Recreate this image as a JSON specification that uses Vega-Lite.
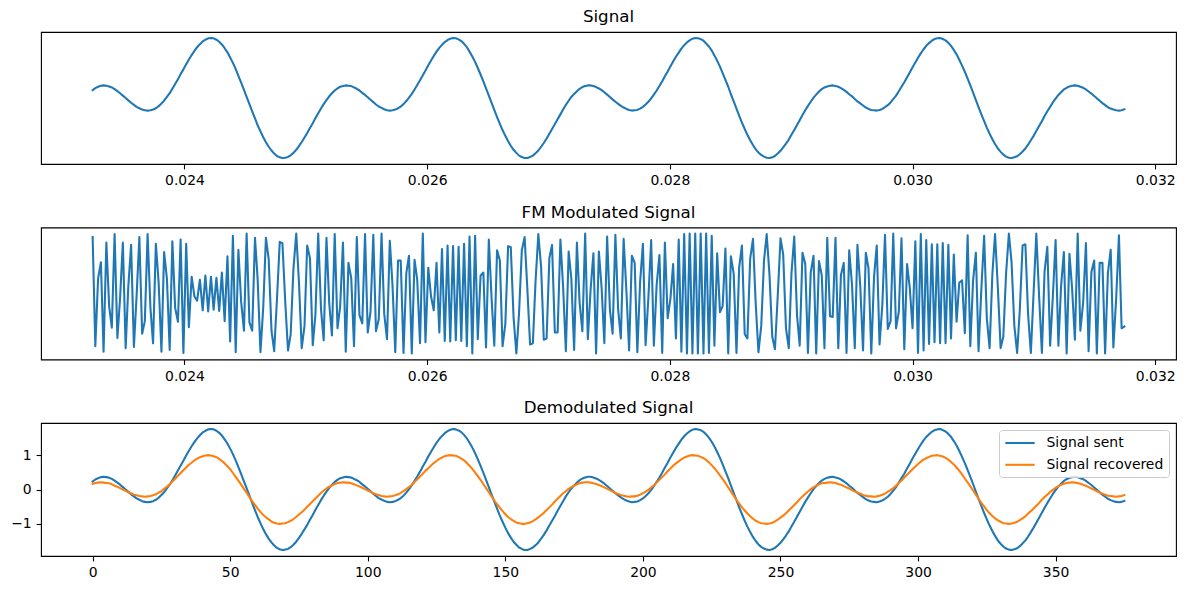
{
"$schema":"https://vega.github.io/schema/vega-lite/v6.json",
"padding":{"left":10,"top":8,"right":5,"bottom":5},
"spacing":14.5,
"resolve":{"legend":{"color":"independent"}},
"config":{
"font":"DejaVu Sans",
"view":{"stroke":"#000000","strokeWidth":1.1},
"axis":{"grid":false,"domain":false,"tickColor":"#000000","tickSize":4.9,"tickWidth":1.1,"labelFontSize":13.9,"labelColor":"#000000","labelPadding":4.9,"labelFont":"DejaVu Sans","labelFlush":false,"labelOverlap":false,"title":null},
"title":{"font":"DejaVu Sans","fontSize":16.7,"fontWeight":"normal","color":"#000000","offset":6,"anchor":"middle"},
"line":{"strokeWidth":2.08,"strokeJoin":"round","strokeCap":"square"}
},
"data":{"values":[
{"n":0,"t":0.023243,"s":0.23,"f":0.94,"r":0.16},
{"n":1,"t":0.023265,"s":0.29,"f":-0.88,"r":0.19},
{"n":2,"t":0.023288,"s":0.33,"f":0.25,"r":0.20},
{"n":3,"t":0.023311,"s":0.36,"f":0.52,"r":0.21},
{"n":4,"t":0.023333,"s":0.37,"f":-0.97,"r":0.20},
{"n":5,"t":0.023356,"s":0.36,"f":0.85,"r":0.19},
{"n":6,"t":0.023379,"s":0.34,"f":-0.21,"r":0.18},
{"n":7,"t":0.023401,"s":0.31,"f":-0.57,"r":0.15},
{"n":8,"t":0.023424,"s":0.26,"f":0.99,"r":0.11},
{"n":9,"t":0.023447,"s":0.20,"f":-0.74,"r":0.08},
{"n":10,"t":0.023469,"s":0.14,"f":-0.08,"r":0.04},
{"n":11,"t":0.023492,"s":0.07,"f":0.85,"r":0.00},
{"n":12,"t":0.023515,"s":0.00,"f":-0.91,"r":-0.04},
{"n":13,"t":0.023537,"s":-0.07,"f":0.12,"r":-0.08},
{"n":14,"t":0.023560,"s":-0.14,"f":0.81,"r":-0.11},
{"n":15,"t":0.023583,"s":-0.20,"f":-0.89,"r":-0.15},
{"n":16,"t":0.023605,"s":-0.26,"f":-0.05,"r":-0.17},
{"n":17,"t":0.023628,"s":-0.30,"f":0.94,"r":-0.19},
{"n":18,"t":0.023651,"s":-0.34,"f":-0.67,"r":-0.20},
{"n":19,"t":0.023673,"s":-0.36,"f":-0.46,"r":-0.21},
{"n":20,"t":0.023696,"s":-0.37,"f":0.99,"r":-0.20},
{"n":21,"t":0.023719,"s":-0.36,"f":-0.23,"r":-0.19},
{"n":22,"t":0.023741,"s":-0.34,"f":-0.83,"r":-0.17},
{"n":23,"t":0.023764,"s":-0.30,"f":0.83,"r":-0.14},
{"n":24,"t":0.023787,"s":-0.24,"f":0.18,"r":-0.09},
{"n":25,"t":0.023810,"s":-0.16,"f":-0.97,"r":-0.05},
{"n":26,"t":0.023832,"s":-0.08,"f":0.69,"r":0.02},
{"n":27,"t":0.023855,"s":0.03,"f":0.25,"r":0.08},
{"n":28,"t":0.023878,"s":0.14,"f":-0.94,"r":0.15},
{"n":29,"t":0.023900,"s":0.27,"f":0.87,"r":0.23},
{"n":30,"t":0.023923,"s":0.41,"f":-0.24,"r":0.31},
{"n":31,"t":0.023946,"s":0.55,"f":-0.47,"r":0.40},
{"n":32,"t":0.023968,"s":0.70,"f":0.90,"r":0.48},
{"n":33,"t":0.023991,"s":0.84,"f":-0.99,"r":0.56},
{"n":34,"t":0.024014,"s":0.99,"f":0.83,"r":0.64},
{"n":35,"t":0.024036,"s":1.13,"f":-0.56,"r":0.72},
{"n":36,"t":0.024059,"s":1.26,"f":0.28,"r":0.78},
{"n":37,"t":0.024082,"s":1.38,"f":-0.05,"r":0.85},
{"n":38,"t":0.024104,"s":1.49,"f":-0.12,"r":0.90},
{"n":39,"t":0.024127,"s":1.58,"f":0.23,"r":0.94},
{"n":40,"t":0.024150,"s":1.66,"f":-0.28,"r":0.97},
{"n":41,"t":0.024172,"s":1.71,"f":0.30,"r":0.99},
{"n":42,"t":0.024195,"s":1.75,"f":-0.30,"r":1.00},
{"n":43,"t":0.024218,"s":1.76,"f":0.28,"r":0.99},
{"n":44,"t":0.024240,"s":1.75,"f":-0.27,"r":0.97},
{"n":45,"t":0.024263,"s":1.71,"f":0.26,"r":0.94},
{"n":46,"t":0.024286,"s":1.65,"f":-0.29,"r":0.89},
{"n":47,"t":0.024308,"s":1.57,"f":0.35,"r":0.83},
{"n":48,"t":0.024331,"s":1.46,"f":-0.46,"r":0.76},
{"n":49,"t":0.024354,"s":1.34,"f":0.62,"r":0.68},
{"n":50,"t":0.024376,"s":1.19,"f":-0.80,"r":0.59},
{"n":51,"t":0.024399,"s":1.03,"f":0.96,"r":0.48},
{"n":52,"t":0.024422,"s":0.85,"f":-0.98,"r":0.37},
{"n":53,"t":0.024444,"s":0.65,"f":0.73,"r":0.26},
{"n":54,"t":0.024467,"s":0.45,"f":-0.14,"r":0.14},
{"n":55,"t":0.024490,"s":0.24,"f":-0.62,"r":0.02},
{"n":56,"t":0.024512,"s":0.03,"f":1.00,"r":-0.10},
{"n":57,"t":0.024535,"s":-0.18,"f":-0.48,"r":-0.22},
{"n":58,"t":0.024558,"s":-0.39,"f":-0.62,"r":-0.34},
{"n":59,"t":0.024581,"s":-0.60,"f":0.93,"r":-0.45},
{"n":60,"t":0.024603,"s":-0.80,"f":0.23,"r":-0.56},
{"n":61,"t":0.024626,"s":-0.98,"f":-0.98,"r":-0.65},
{"n":62,"t":0.024649,"s":-1.15,"f":-0.23,"r":-0.74},
{"n":63,"t":0.024671,"s":-1.30,"f":0.93,"r":-0.81},
{"n":64,"t":0.024694,"s":-1.43,"f":0.57,"r":-0.87},
{"n":65,"t":0.024717,"s":-1.54,"f":-0.62,"r":-0.93},
{"n":66,"t":0.024739,"s":-1.63,"f":-0.96,"r":-0.97},
{"n":67,"t":0.024762,"s":-1.70,"f":-0.10,"r":-0.99},
{"n":68,"t":0.024785,"s":-1.74,"f":0.86,"r":-1.00},
{"n":69,"t":0.024807,"s":-1.76,"f":0.84,"r":-0.99},
{"n":70,"t":0.024830,"s":-1.75,"f":-0.13,"r":-0.98},
{"n":71,"t":0.024853,"s":-1.73,"f":-0.95,"r":-0.95},
{"n":72,"t":0.024875,"s":-1.68,"f":-0.68,"r":-0.91},
{"n":73,"t":0.024898,"s":-1.61,"f":0.42,"r":-0.86},
{"n":74,"t":0.024921,"s":-1.52,"f":1.00,"r":-0.80},
{"n":75,"t":0.024943,"s":-1.41,"f":0.20,"r":-0.73},
{"n":76,"t":0.024966,"s":-1.29,"f":-0.91,"r":-0.66},
{"n":77,"t":0.024989,"s":-1.16,"f":-0.54,"r":-0.59},
{"n":78,"t":0.025011,"s":-1.03,"f":0.80,"r":-0.50},
{"n":79,"t":0.025034,"s":-0.88,"f":0.59,"r":-0.42},
{"n":80,"t":0.025057,"s":-0.74,"f":-0.86,"r":-0.34},
{"n":81,"t":0.025079,"s":-0.59,"f":-0.35,"r":-0.26},
{"n":82,"t":0.025102,"s":-0.45,"f":1.00,"r":-0.18},
{"n":83,"t":0.025125,"s":-0.31,"f":-0.26,"r":-0.10},
{"n":84,"t":0.025147,"s":-0.18,"f":-0.78,"r":-0.03},
{"n":85,"t":0.025170,"s":-0.06,"f":0.93,"r":0.03},
{"n":86,"t":0.025193,"s":0.05,"f":-0.17,"r":0.08},
{"n":87,"t":0.025215,"s":0.14,"f":-0.70,"r":0.12},
{"n":88,"t":0.025238,"s":0.22,"f":0.99,"r":0.16},
{"n":89,"t":0.025261,"s":0.28,"f":-0.58,"r":0.19},
{"n":90,"t":0.025283,"s":0.33,"f":-0.21,"r":0.20},
{"n":91,"t":0.025306,"s":0.35,"f":0.85,"r":0.21},
{"n":92,"t":0.025329,"s":0.37,"f":-0.97,"r":0.20},
{"n":93,"t":0.025351,"s":0.36,"f":0.51,"r":0.20},
{"n":94,"t":0.025374,"s":0.35,"f":0.26,"r":0.18},
{"n":95,"t":0.025397,"s":0.31,"f":-0.88,"r":0.15},
{"n":96,"t":0.025420,"s":0.27,"f":0.94,"r":0.12},
{"n":97,"t":0.025442,"s":0.22,"f":-0.36,"r":0.09},
{"n":98,"t":0.025465,"s":0.15,"f":-0.50,"r":0.05},
{"n":99,"t":0.025488,"s":0.09,"f":0.99,"r":0.01},
{"n":100,"t":0.025510,"s":0.02,"f":-0.65,"r":-0.03},
{"n":101,"t":0.025533,"s":-0.05,"f":-0.30,"r":-0.07},
{"n":102,"t":0.025556,"s":-0.12,"f":0.98,"r":-0.11},
{"n":103,"t":0.025578,"s":-0.19,"f":-0.63,"r":-0.14},
{"n":104,"t":0.025601,"s":-0.25,"f":-0.43,"r":-0.16},
{"n":105,"t":0.025624,"s":-0.29,"f":1.00,"r":-0.19},
{"n":106,"t":0.025646,"s":-0.33,"f":-0.34,"r":-0.20},
{"n":107,"t":0.025669,"s":-0.36,"f":-0.76,"r":-0.21},
{"n":108,"t":0.025692,"s":-0.37,"f":0.88,"r":-0.20},
{"n":109,"t":0.025714,"s":-0.36,"f":0.15,"r":-0.19},
{"n":110,"t":0.025737,"s":-0.34,"f":-0.98,"r":-0.17},
{"n":111,"t":0.025760,"s":-0.30,"f":0.55,"r":-0.14},
{"n":112,"t":0.025782,"s":-0.25,"f":0.55,"r":-0.10},
{"n":113,"t":0.025805,"s":-0.18,"f":-0.99,"r":-0.05},
{"n":114,"t":0.025828,"s":-0.09,"f":0.34,"r":0.01},
{"n":115,"t":0.025850,"s":0.01,"f":0.63,"r":0.07},
{"n":116,"t":0.025873,"s":0.12,"f":-1.00,"r":0.14},
{"n":117,"t":0.025896,"s":0.25,"f":0.56,"r":0.22},
{"n":118,"t":0.025918,"s":0.38,"f":0.23,"r":0.30},
{"n":119,"t":0.025941,"s":0.52,"f":-0.83,"r":0.38},
{"n":120,"t":0.025964,"s":0.67,"f":1.00,"r":0.46},
{"n":121,"t":0.025986,"s":0.81,"f":-0.81,"r":0.55},
{"n":122,"t":0.026009,"s":0.96,"f":0.43,"r":0.62},
{"n":123,"t":0.026032,"s":1.10,"f":-0.05,"r":0.70},
{"n":124,"t":0.026054,"s":1.23,"f":-0.28,"r":0.77},
{"n":125,"t":0.026077,"s":1.36,"f":0.51,"r":0.83},
{"n":126,"t":0.026100,"s":1.47,"f":-0.65,"r":0.89},
{"n":127,"t":0.026122,"s":1.56,"f":0.74,"r":0.93},
{"n":128,"t":0.026145,"s":1.64,"f":-0.79,"r":0.97},
{"n":129,"t":0.026168,"s":1.70,"f":0.80,"r":0.99},
{"n":130,"t":0.026190,"s":1.74,"f":-0.80,"r":1.00},
{"n":131,"t":0.026213,"s":1.76,"f":0.79,"r":0.99},
{"n":132,"t":0.026236,"s":1.75,"f":-0.78,"r":0.98},
{"n":133,"t":0.026259,"s":1.72,"f":0.78,"r":0.95},
{"n":134,"t":0.026281,"s":1.67,"f":-0.79,"r":0.90},
{"n":135,"t":0.026304,"s":1.59,"f":0.83,"r":0.85},
{"n":136,"t":0.026327,"s":1.49,"f":-0.88,"r":0.77},
{"n":137,"t":0.026349,"s":1.36,"f":0.95,"r":0.69},
{"n":138,"t":0.026372,"s":1.22,"f":-1.00,"r":0.60},
{"n":139,"t":0.026395,"s":1.06,"f":0.96,"r":0.50},
{"n":140,"t":0.026417,"s":0.88,"f":-0.76,"r":0.39},
{"n":141,"t":0.026440,"s":0.69,"f":0.30,"r":0.28},
{"n":142,"t":0.026463,"s":0.49,"f":0.35,"r":0.16},
{"n":143,"t":0.026485,"s":0.28,"f":-0.90,"r":0.04},
{"n":144,"t":0.026508,"s":0.07,"f":0.90,"r":-0.08},
{"n":145,"t":0.026531,"s":-0.14,"f":-0.09,"r":-0.20},
{"n":146,"t":0.026553,"s":-0.35,"f":-0.87,"r":-0.32},
{"n":147,"t":0.026576,"s":-0.56,"f":0.72,"r":-0.43},
{"n":148,"t":0.026599,"s":-0.76,"f":0.55,"r":-0.53},
{"n":149,"t":0.026621,"s":-0.94,"f":-0.88,"r":-0.63},
{"n":150,"t":0.026644,"s":-1.11,"f":-0.51,"r":-0.72},
{"n":151,"t":0.026667,"s":-1.27,"f":0.79,"r":-0.80},
{"n":152,"t":0.026689,"s":-1.40,"f":0.77,"r":-0.86},
{"n":153,"t":0.026712,"s":-1.52,"f":-0.40,"r":-0.91},
{"n":154,"t":0.026735,"s":-1.61,"f":-1.00,"r":-0.96},
{"n":155,"t":0.026757,"s":-1.69,"f":-0.33,"r":-0.98},
{"n":156,"t":0.026780,"s":-1.73,"f":0.72,"r":-1.00},
{"n":157,"t":0.026803,"s":-1.76,"f":0.94,"r":-1.00},
{"n":158,"t":0.026825,"s":-1.76,"f":0.10,"r":-0.98},
{"n":159,"t":0.026848,"s":-1.73,"f":-0.85,"r":-0.96},
{"n":160,"t":0.026871,"s":-1.69,"f":-0.83,"r":-0.92},
{"n":161,"t":0.026893,"s":-1.62,"f":0.20,"r":-0.87},
{"n":162,"t":0.026916,"s":-1.54,"f":0.99,"r":-0.81},
{"n":163,"t":0.026939,"s":-1.43,"f":0.44,"r":-0.75},
{"n":164,"t":0.026961,"s":-1.32,"f":-0.77,"r":-0.68},
{"n":165,"t":0.026984,"s":-1.19,"f":-0.75,"r":-0.60},
{"n":166,"t":0.027007,"s":-1.05,"f":0.59,"r":-0.52},
{"n":167,"t":0.027029,"s":-0.91,"f":0.81,"r":-0.44},
{"n":168,"t":0.027052,"s":-0.77,"f":-0.65,"r":-0.35},
{"n":169,"t":0.027075,"s":-0.62,"f":-0.65,"r":-0.27},
{"n":170,"t":0.027098,"s":-0.48,"f":0.90,"r":-0.19},
{"n":171,"t":0.027120,"s":-0.34,"f":0.12,"r":-0.11},
{"n":172,"t":0.027143,"s":-0.20,"f":-0.96,"r":-0.05},
{"n":173,"t":0.027166,"s":-0.08,"f":0.70,"r":0.02},
{"n":174,"t":0.027188,"s":0.03,"f":0.25,"r":0.07},
{"n":175,"t":0.027211,"s":0.12,"f":-0.94,"r":0.11},
{"n":176,"t":0.027234,"s":0.20,"f":0.85,"r":0.15},
{"n":177,"t":0.027256,"s":0.27,"f":-0.15,"r":0.18},
{"n":178,"t":0.027279,"s":0.32,"f":-0.63,"r":0.20},
{"n":179,"t":0.027302,"s":0.35,"f":1.00,"r":0.21},
{"n":180,"t":0.027324,"s":0.37,"f":-0.76,"r":0.21},
{"n":181,"t":0.027347,"s":0.37,"f":0.07,"r":0.20},
{"n":182,"t":0.027370,"s":0.35,"f":0.67,"r":0.18},
{"n":183,"t":0.027392,"s":0.32,"f":-1.00,"r":0.16},
{"n":184,"t":0.027415,"s":0.28,"f":0.70,"r":0.13},
{"n":185,"t":0.027438,"s":0.23,"f":0.08,"r":0.10},
{"n":186,"t":0.027460,"s":0.17,"f":-0.83,"r":0.06},
{"n":187,"t":0.027483,"s":0.10,"f":0.95,"r":0.02},
{"n":188,"t":0.027506,"s":0.03,"f":-0.27,"r":-0.02},
{"n":189,"t":0.027528,"s":-0.04,"f":-0.67,"r":-0.06},
{"n":190,"t":0.027551,"s":-0.11,"f":0.98,"r":-0.10},
{"n":191,"t":0.027574,"s":-0.17,"f":-0.27,"r":-0.13},
{"n":192,"t":0.027596,"s":-0.23,"f":-0.75,"r":-0.16},
{"n":193,"t":0.027619,"s":-0.28,"f":0.91,"r":-0.18},
{"n":194,"t":0.027642,"s":-0.32,"f":0.04,"r":-0.20},
{"n":195,"t":0.027664,"s":-0.35,"f":-0.95,"r":-0.21},
{"n":196,"t":0.027687,"s":-0.37,"f":0.63,"r":-0.20},
{"n":197,"t":0.027710,"s":-0.36,"f":0.51,"r":-0.20},
{"n":198,"t":0.027732,"s":-0.35,"f":-0.98,"r":-0.18},
{"n":199,"t":0.027755,"s":-0.31,"f":0.20,"r":-0.15},
{"n":200,"t":0.027778,"s":-0.26,"f":0.83,"r":-0.11},
{"n":201,"t":0.027800,"s":-0.19,"f":-0.86,"r":-0.06},
{"n":202,"t":0.027823,"s":-0.11,"f":-0.07,"r":-0.01},
{"n":203,"t":0.027846,"s":-0.01,"f":0.89,"r":0.06},
{"n":204,"t":0.027868,"s":0.10,"f":-0.87,"r":0.12},
{"n":205,"t":0.027891,"s":0.22,"f":0.14,"r":0.20},
{"n":206,"t":0.027914,"s":0.35,"f":0.64,"r":0.28},
{"n":207,"t":0.027937,"s":0.49,"f":-0.99,"r":0.36},
{"n":208,"t":0.027959,"s":0.64,"f":0.85,"r":0.44},
{"n":209,"t":0.027982,"s":0.78,"f":-0.41,"r":0.53},
{"n":210,"t":0.028005,"s":0.93,"f":-0.08,"r":0.61},
{"n":211,"t":0.028027,"s":1.07,"f":0.49,"r":0.69},
{"n":212,"t":0.028050,"s":1.21,"f":-0.75,"r":0.76},
{"n":213,"t":0.028073,"s":1.33,"f":0.90,"r":0.82},
{"n":214,"t":0.028095,"s":1.45,"f":-0.97,"r":0.88},
{"n":215,"t":0.028118,"s":1.55,"f":0.99,"r":0.93},
{"n":216,"t":0.028141,"s":1.63,"f":-1.00,"r":0.96},
{"n":217,"t":0.028163,"s":1.69,"f":1.00,"r":0.99},
{"n":218,"t":0.028186,"s":1.74,"f":-1.00,"r":1.00},
{"n":219,"t":0.028209,"s":1.76,"f":1.00,"r":0.99},
{"n":220,"t":0.028231,"s":1.75,"f":-1.00,"r":0.98},
{"n":221,"t":0.028254,"s":1.73,"f":1.00,"r":0.95},
{"n":222,"t":0.028277,"s":1.68,"f":-1.00,"r":0.91},
{"n":223,"t":0.028299,"s":1.60,"f":1.00,"r":0.86},
{"n":224,"t":0.028322,"s":1.51,"f":-0.99,"r":0.79},
{"n":225,"t":0.028345,"s":1.39,"f":0.96,"r":0.71},
{"n":226,"t":0.028367,"s":1.25,"f":-0.87,"r":0.62},
{"n":227,"t":0.028390,"s":1.09,"f":0.67,"r":0.52},
{"n":228,"t":0.028413,"s":0.92,"f":-0.31,"r":0.41},
{"n":229,"t":0.028435,"s":0.73,"f":-0.21,"r":0.30},
{"n":230,"t":0.028458,"s":0.53,"f":0.75,"r":0.19},
{"n":231,"t":0.028481,"s":0.33,"f":-1.00,"r":0.06},
{"n":232,"t":0.028503,"s":0.11,"f":0.62,"r":-0.06},
{"n":233,"t":0.028526,"s":-0.10,"f":0.33,"r":-0.18},
{"n":234,"t":0.028549,"s":-0.31,"f":-0.99,"r":-0.30},
{"n":235,"t":0.028571,"s":-0.52,"f":0.43,"r":-0.41},
{"n":236,"t":0.028594,"s":-0.72,"f":0.80,"r":-0.52},
{"n":237,"t":0.028617,"s":-0.91,"f":-0.68,"r":-0.61},
{"n":238,"t":0.028639,"s":-1.08,"f":-0.75,"r":-0.70},
{"n":239,"t":0.028662,"s":-1.24,"f":0.58,"r":-0.78},
{"n":240,"t":0.028685,"s":-1.38,"f":0.91,"r":-0.85},
{"n":241,"t":0.028707,"s":-1.50,"f":-0.15,"r":-0.91},
{"n":242,"t":0.028730,"s":-1.60,"f":-0.98,"r":-0.95},
{"n":243,"t":0.028753,"s":-1.67,"f":-0.54,"r":-0.98},
{"n":244,"t":0.028776,"s":-1.72,"f":0.55,"r":-0.99},
{"n":245,"t":0.028798,"s":-1.75,"f":0.99,"r":-1.00},
{"n":246,"t":0.028821,"s":-1.76,"f":0.31,"r":-0.99},
{"n":247,"t":0.028844,"s":-1.74,"f":-0.72,"r":-0.97},
{"n":248,"t":0.028866,"s":-1.70,"f":-0.93,"r":-0.93},
{"n":249,"t":0.028889,"s":-1.63,"f":-0.04,"r":-0.88},
{"n":250,"t":0.028912,"s":-1.55,"f":0.92,"r":-0.82},
{"n":251,"t":0.028934,"s":-1.45,"f":0.65,"r":-0.76},
{"n":252,"t":0.028957,"s":-1.34,"f":-0.58,"r":-0.69},
{"n":253,"t":0.028980,"s":-1.22,"f":-0.91,"r":-0.61},
{"n":254,"t":0.029002,"s":-1.08,"f":0.33,"r":-0.53},
{"n":255,"t":0.029025,"s":-0.94,"f":0.95,"r":-0.45},
{"n":256,"t":0.029048,"s":-0.79,"f":-0.36,"r":-0.37},
{"n":257,"t":0.029070,"s":-0.65,"f":-0.87,"r":-0.28},
{"n":258,"t":0.029093,"s":-0.50,"f":0.68,"r":-0.20},
{"n":259,"t":0.029116,"s":-0.36,"f":0.49,"r":-0.13},
{"n":260,"t":0.029138,"s":-0.23,"f":-0.99,"r":-0.06},
{"n":261,"t":0.029161,"s":-0.11,"f":0.35,"r":0.01},
{"n":262,"t":0.029184,"s":0.01,"f":0.63,"r":0.06},
{"n":263,"t":0.029206,"s":0.10,"f":-1.00,"r":0.11},
{"n":264,"t":0.029229,"s":0.19,"f":0.54,"r":0.15},
{"n":265,"t":0.029252,"s":0.26,"f":0.30,"r":0.18},
{"n":266,"t":0.029274,"s":0.31,"f":-0.91,"r":0.19},
{"n":267,"t":0.029297,"s":0.34,"f":0.93,"r":0.20},
{"n":268,"t":0.029320,"s":0.36,"f":-0.38,"r":0.21},
{"n":269,"t":0.029342,"s":0.37,"f":-0.39,"r":0.20},
{"n":270,"t":0.029365,"s":0.35,"f":0.93,"r":0.19},
{"n":271,"t":0.029388,"s":0.33,"f":-0.91,"r":0.16},
{"n":272,"t":0.029410,"s":0.29,"f":0.31,"r":0.14},
{"n":273,"t":0.029433,"s":0.24,"f":0.51,"r":0.10},
{"n":274,"t":0.029456,"s":0.18,"f":-0.99,"r":0.06},
{"n":275,"t":0.029478,"s":0.11,"f":0.72,"r":0.03},
{"n":276,"t":0.029501,"s":0.05,"f":0.15,"r":-0.02},
{"n":277,"t":0.029524,"s":-0.03,"f":-0.91,"r":-0.06},
{"n":278,"t":0.029546,"s":-0.10,"f":0.81,"r":-0.09},
{"n":279,"t":0.029569,"s":-0.16,"f":0.13,"r":-0.12},
{"n":280,"t":0.029592,"s":-0.22,"f":-0.95,"r":-0.16},
{"n":281,"t":0.029615,"s":-0.28,"f":0.68,"r":-0.18},
{"n":282,"t":0.029637,"s":-0.32,"f":0.42,"r":-0.20},
{"n":283,"t":0.029660,"s":-0.35,"f":-1.00,"r":-0.20},
{"n":284,"t":0.029683,"s":-0.36,"f":0.29,"r":-0.21},
{"n":285,"t":0.029705,"s":-0.37,"f":0.80,"r":-0.20},
{"n":286,"t":0.029728,"s":-0.35,"f":-0.85,"r":-0.18},
{"n":287,"t":0.029751,"s":-0.32,"f":-0.19,"r":-0.15},
{"n":288,"t":0.029773,"s":-0.27,"f":0.98,"r":-0.12},
{"n":289,"t":0.029796,"s":-0.21,"f":-0.59,"r":-0.07},
{"n":290,"t":0.029819,"s":-0.13,"f":-0.46,"r":-0.02},
{"n":291,"t":0.029841,"s":-0.03,"f":1.00,"r":0.04},
{"n":292,"t":0.029864,"s":0.07,"f":-0.58,"r":0.11},
{"n":293,"t":0.029887,"s":0.20,"f":-0.30,"r":0.19},
{"n":294,"t":0.029909,"s":0.33,"f":0.92,"r":0.26},
{"n":295,"t":0.029932,"s":0.46,"f":-0.93,"r":0.35},
{"n":296,"t":0.029955,"s":0.61,"f":0.49,"r":0.43},
{"n":297,"t":0.029977,"s":0.75,"f":0.10,"r":0.51},
{"n":298,"t":0.030000,"s":0.90,"f":-0.58,"r":0.59},
{"n":299,"t":0.030023,"s":1.04,"f":0.87,"r":0.67},
{"n":300,"t":0.030045,"s":1.18,"f":-0.99,"r":0.74},
{"n":301,"t":0.030068,"s":1.31,"f":0.99,"r":0.81},
{"n":302,"t":0.030091,"s":1.43,"f":-0.95,"r":0.87},
{"n":303,"t":0.030113,"s":1.53,"f":0.89,"r":0.91},
{"n":304,"t":0.030136,"s":1.61,"f":-0.84,"r":0.95},
{"n":305,"t":0.030159,"s":1.68,"f":0.82,"r":0.98},
{"n":306,"t":0.030181,"s":1.73,"f":-0.81,"r":0.99},
{"n":307,"t":0.030204,"s":1.75,"f":0.82,"r":1.00},
{"n":308,"t":0.030227,"s":1.76,"f":-0.83,"r":0.98},
{"n":309,"t":0.030249,"s":1.73,"f":0.84,"r":0.96},
{"n":310,"t":0.030272,"s":1.69,"f":-0.83,"r":0.92},
{"n":311,"t":0.030295,"s":1.62,"f":0.81,"r":0.87},
{"n":312,"t":0.030317,"s":1.53,"f":-0.75,"r":0.80},
{"n":313,"t":0.030340,"s":1.41,"f":0.65,"r":0.73},
{"n":314,"t":0.030363,"s":1.28,"f":-0.47,"r":0.64},
{"n":315,"t":0.030385,"s":1.12,"f":0.18,"r":0.54},
{"n":316,"t":0.030408,"s":0.95,"f":0.22,"r":0.44},
{"n":317,"t":0.030431,"s":0.77,"f":-0.66,"r":0.32},
{"n":318,"t":0.030454,"s":0.57,"f":0.97,"r":0.21},
{"n":319,"t":0.030476,"s":0.37,"f":-0.88,"r":0.09},
{"n":320,"t":0.030499,"s":0.16,"f":0.22,"r":-0.03},
{"n":321,"t":0.030522,"s":-0.06,"f":0.68,"r":-0.15},
{"n":322,"t":0.030544,"s":-0.27,"f":-0.96,"r":-0.27},
{"n":323,"t":0.030567,"s":-0.48,"f":0.07,"r":-0.39},
{"n":324,"t":0.030590,"s":-0.68,"f":0.96,"r":-0.49},
{"n":325,"t":0.030612,"s":-0.87,"f":-0.41,"r":-0.60},
{"n":326,"t":0.030635,"s":-1.05,"f":-0.91,"r":-0.69},
{"n":327,"t":0.030658,"s":-1.21,"f":0.33,"r":-0.77},
{"n":328,"t":0.030680,"s":-1.35,"f":0.99,"r":-0.84},
{"n":329,"t":0.030703,"s":-1.48,"f":0.10,"r":-0.90},
{"n":330,"t":0.030726,"s":-1.58,"f":-0.91,"r":-0.94},
{"n":331,"t":0.030748,"s":-1.66,"f":-0.72,"r":-0.98},
{"n":332,"t":0.030771,"s":-1.72,"f":0.34,"r":-0.99},
{"n":333,"t":0.030794,"s":-1.75,"f":1.00,"r":-1.00},
{"n":334,"t":0.030816,"s":-1.76,"f":0.52,"r":-0.99},
{"n":335,"t":0.030839,"s":-1.74,"f":-0.54,"r":-0.97},
{"n":336,"t":0.030862,"s":-1.71,"f":-0.99,"r":-0.94},
{"n":337,"t":0.030884,"s":-1.65,"f":-0.27,"r":-0.89},
{"n":338,"t":0.030907,"s":-1.57,"f":0.80,"r":-0.84},
{"n":339,"t":0.030930,"s":-1.48,"f":0.82,"r":-0.78},
{"n":340,"t":0.030952,"s":-1.37,"f":-0.34,"r":-0.70},
{"n":341,"t":0.030975,"s":-1.24,"f":-0.99,"r":-0.63},
{"n":342,"t":0.030998,"s":-1.11,"f":0.03,"r":-0.55},
{"n":343,"t":0.031020,"s":-0.97,"f":1.00,"r":-0.47},
{"n":344,"t":0.031043,"s":-0.82,"f":-0.04,"r":-0.39},
{"n":345,"t":0.031066,"s":-0.68,"f":-0.99,"r":-0.30},
{"n":346,"t":0.031088,"s":-0.53,"f":0.37,"r":-0.22},
{"n":347,"t":0.031111,"s":-0.39,"f":0.78,"r":-0.15},
{"n":348,"t":0.031134,"s":-0.26,"f":-0.87,"r":-0.07},
{"n":349,"t":0.031156,"s":-0.13,"f":-0.06,"r":-0.01},
{"n":350,"t":0.031179,"s":-0.02,"f":0.89,"r":0.05},
{"n":351,"t":0.031202,"s":0.09,"f":-0.87,"r":0.10},
{"n":352,"t":0.031224,"s":0.17,"f":0.12,"r":0.14},
{"n":353,"t":0.031247,"s":0.25,"f":0.69,"r":0.17},
{"n":354,"t":0.031270,"s":0.30,"f":-1.00,"r":0.19},
{"n":355,"t":0.031293,"s":0.34,"f":0.66,"r":0.20},
{"n":356,"t":0.031315,"s":0.36,"f":0.08,"r":0.21},
{"n":357,"t":0.031338,"s":0.37,"f":-0.77,"r":0.20},
{"n":358,"t":0.031361,"s":0.36,"f":1.00,"r":0.19},
{"n":359,"t":0.031383,"s":0.33,"f":-0.62,"r":0.17},
{"n":360,"t":0.031406,"s":0.30,"f":-0.15,"r":0.14},
{"n":361,"t":0.031429,"s":0.25,"f":0.84,"r":0.11},
{"n":362,"t":0.031451,"s":0.19,"f":-0.96,"r":0.07},
{"n":363,"t":0.031474,"s":0.13,"f":0.36,"r":0.03},
{"n":364,"t":0.031497,"s":0.06,"f":0.55,"r":-0.01},
{"n":365,"t":0.031519,"s":-0.01,"f":-1.00,"r":-0.05},
{"n":366,"t":0.031542,"s":-0.08,"f":0.51,"r":-0.09},
{"n":367,"t":0.031565,"s":-0.15,"f":0.51,"r":-0.12},
{"n":368,"t":0.031587,"s":-0.21,"f":-1.00,"r":-0.15},
{"n":369,"t":0.031610,"s":-0.27,"f":0.34,"r":-0.18},
{"n":370,"t":0.031633,"s":-0.31,"f":0.73,"r":-0.19},
{"n":371,"t":0.031655,"s":-0.34,"f":-0.90,"r":-0.20},
{"n":372,"t":0.031678,"s":-0.36,"f":-0.09,"r":-0.21},
{"n":373,"t":0.031701,"s":-0.37,"f":0.97,"r":-0.20},
{"n":374,"t":0.031723,"s":-0.36,"f":-0.58,"r":-0.19},
{"n":375,"t":0.031746,"s":-0.33,"f":-0.55,"r":-0.16}
]},
"vconcat":[
{
"title":"Signal",
"width":1135,"height":132,
"mark":{"type":"line","color":"#1f77b4"},
"encoding":{
"x":{"field":"t","type":"quantitative","scale":{"domain":[0.0228174,0.0321712],"nice":false,"zero":false},"axis":{"values":[0.024,0.026,0.028,0.030,0.032],"format":".3f"}},
"y":{"field":"s","type":"quantitative","scale":{"domain":[-1.936,1.936],"nice":false,"zero":false},"axis":null}
}
},
{
"title":"FM Modulated Signal",
"width":1135,"height":132,
"mark":{"type":"line","color":"#1f77b4"},
"encoding":{
"x":{"field":"t","type":"quantitative","scale":{"domain":[0.0228174,0.0321712],"nice":false,"zero":false},"axis":{"values":[0.024,0.026,0.028,0.030,0.032],"format":".3f"}},
"y":{"field":"f","type":"quantitative","scale":{"domain":[-1.1,1.1],"nice":false,"zero":false},"axis":null}
}
},
{
"title":"Demodulated Signal",
"width":1135,"height":133,
"encoding":{
"x":{"field":"n","type":"quantitative","scale":{"domain":[-18.75,393.75],"nice":false,"zero":false},"axis":{"values":[0,50,100,150,200,250,300,350]}}
},
"layer":[
{"mark":{"type":"line"},
"encoding":{
"y":{"field":"s","type":"quantitative","scale":{"domain":[-1.936,1.936],"nice":false,"zero":false},"axis":{"values":[-1,0,1]}},
"color":{"datum":"Signal sent","type":"nominal","scale":{"domain":["Signal sent","Signal recovered"],"range":["#1f77b4","#ff7f0e"]},
"legend":{"title":null,"orient":"top-right","offset":7,"padding":5,"fillColor":"rgba(255,255,255,0.8)","strokeColor":"#cccccc","cornerRadius":3,"symbolType":"M-2.2,0H2.2","symbolSize":178,"symbolStrokeWidth":2.08,"symbolOffset":8,"labelFontSize":13.9,"labelFont":"DejaVu Sans","labelColor":"#000000","labelOffset":18.5,"rowPadding":6.8}}
}},
{"mark":{"type":"line"},
"encoding":{
"y":{"field":"r","type":"quantitative"},
"color":{"datum":"Signal recovered","type":"nominal"}
}}
]
}
]
}
